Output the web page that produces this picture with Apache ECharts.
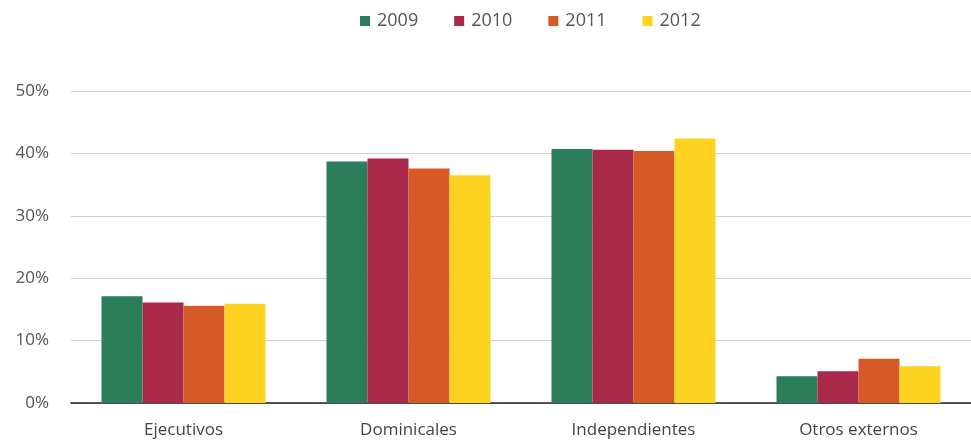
<!DOCTYPE html>
<html><head><meta charset="utf-8">
<script src="https://cdn.jsdelivr.net/npm/echarts@6/dist/echarts.min.js"></script>
<style>html,body{margin:0;padding:0;background:#fff}#c{width:971px;height:446px}</style>
</head><body><div id="c"></div>
<script>
const categories = ['Ejecutivos', 'Dominicales', 'Independientes', 'Otros externos'];
const years = ['2009', '2010', '2011', '2012'];
const v2009 = [17.1, 38.7, 40.7, 4.3];
const v2010 = [16.1, 39.2, 40.6, 5.1];
const v2011 = [15.6, 37.6, 40.4, 7.1];
const v2012 = [15.9, 36.5, 42.4, 5.9];
const yTicks = [0, 10, 20, 30, 40, 50];
const colors = ['#2b7d5c', '#a8294a', '#d65a26', '#fdd321'];
const values = [v2009, v2010, v2011, v2012];
const font = '"Open Sans", "Noto Sans", sans-serif';
const chart = echarts.init(document.getElementById('c'));
chart.setOption({
  animation: false,
  color: colors,
  legend: {
    top: 7, left: 355, itemWidth: 10, itemHeight: 10, itemGap: 36,
    icon: 'rect',
    textStyle: { fontFamily: font, fontSize: 18, color: '#555', padding: [0,0,0,2] },
    data: years
  },
  grid: { left: 71, right: 0, top: 91, bottom: 43, containLabel: false },
  xAxis: {
    type: 'category', data: categories,
    axisLine: { lineStyle: { color: '#222', width: 1.5 } },
    axisTick: { show: false },
    axisLabel: { fontFamily: font, fontSize: 17, color: '#444', margin: 19 }
  },
  yAxis: {
    type: 'value', min: yTicks[0], max: yTicks[yTicks.length-1], interval: 10,
    axisLine: { show: false }, axisTick: { show: false },
    axisLabel: { fontFamily: font, fontSize: 17, color: '#555', margin: 22, formatter: v => v + '%' },
    splitLine: { lineStyle: { color: '#d6cfcf', width: 1 } }
  },
  series: years.map((y, i) => ({
    name: y, type: 'bar', data: values[i], barWidth: 41, barGap: '0%',
    itemStyle: { color: colors[i] }
  }))
});
</script></body></html>
